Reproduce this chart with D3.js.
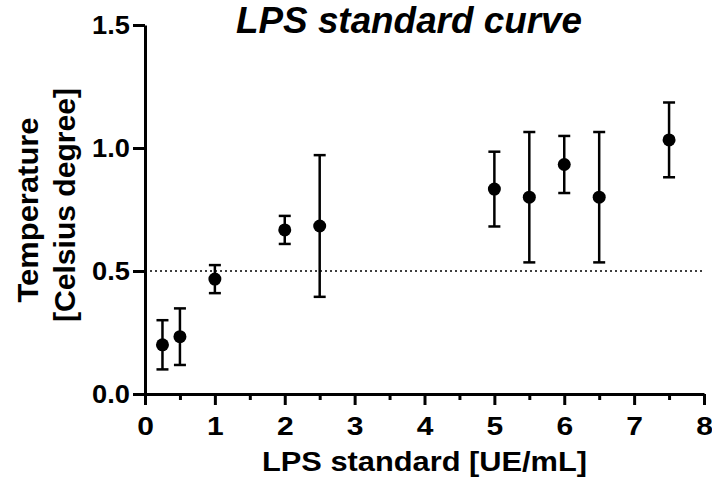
<!DOCTYPE html>
<html>
<head>
<meta charset="utf-8">
<script src="https://cdn.jsdelivr.net/npm/d3@7"></script>
<style>
  body { margin: 0; background: #fff; }
  svg { font-family: "Liberation Sans", Arial, sans-serif; }
</style>
</head>
<body>
<script>
// LPS standard curve data (mean +/- error)
const doses = [0.25, 0.5, 1, 2, 2.5, 5, 5.5, 6, 6.5, 7.5];
const means = [0.2, 0.233, 0.467, 0.667, 0.683, 0.833, 0.8, 0.933, 0.8, 1.033];
const errs = [0.1, 0.115, 0.057, 0.057, 0.288, 0.152, 0.265, 0.116, 0.265, 0.152];
const x_ticks = [0, 1, 2, 3, 4, 5, 6, 7, 8];
const x_minor = [0.5, 1.5, 2.5, 3.5, 4.5, 5.5, 6.5, 7.5];
const y_ticks = [0, 0.5, 1.0, 1.5];
const threshold = 0.5;

const w = 712, h = 485;
const m = {top: 25, right: 8, bottom: 91, left: 145};
const stretch = 1.15; // the reference text is a bit wider than Arial

const svg = d3.select("body").append("svg")
  .attr("width", w).attr("height", h);

const x = d3.scaleLinear().domain([0, 8]).range([m.left, w - m.right]);
const y = d3.scaleLinear().domain([0, 1.5]).range([h - m.bottom, m.top]);

function widen(sel, k) {
  sel.each(function () {
    const len = this.getComputedTextLength();
    d3.select(this).attr("textLength", len * k).attr("lengthAdjust", "spacingAndGlyphs");
  });
}

// dotted threshold line
svg.append("line")
  .attr("x1", x(0)).attr("x2", x(8))
  .attr("y1", y(threshold)).attr("y2", y(threshold))
  .attr("stroke", "#000").attr("stroke-width", 1.5)
  .attr("stroke-dasharray", "2,3");

// x axis with minor ticks
const xg = svg.append("g")
  .attr("transform", `translate(0,${y(0)})`);
xg.append("g")
  .call(d3.axisBottom(x).tickValues(x_minor).tickSize(6).tickFormat(""))
  .call(g => g.select(".domain").remove())
  .selectAll("line").attr("stroke-width", 3);
xg.append("g")
  .call(d3.axisBottom(x).tickValues(x_ticks).tickSize(11).tickSizeOuter(0)
    .tickFormat(d3.format("d")))
  .call(g => g.select(".domain").attr("stroke-width", 3))
  .call(g => g.selectAll("line").attr("stroke-width", 3))
  .call(g => g.selectAll("text")
    .attr("font-size", 25).attr("font-weight", "bold")
    .attr("font-family", "Liberation Sans, Arial, sans-serif")
    .attr("y", 41).attr("dy", null)
    .call(widen, 1.2));

// y axis
svg.append("g")
  .attr("transform", `translate(${x(0)},0)`)
  .call(d3.axisLeft(y).tickValues(y_ticks).tickSize(12).tickSizeOuter(0)
    .tickFormat(d3.format(".1f")))
  .call(g => g.select(".domain").attr("stroke-width", 3))
  .call(g => g.selectAll("line").attr("stroke-width", 3))
  .call(g => g.selectAll("text")
    .attr("font-size", 25).attr("font-weight", "bold")
    .attr("font-family", "Liberation Sans, Arial, sans-serif")
    .attr("x", -15).attr("dy", 8.5)
    .call(widen, 1.09));

// error bars
const data = doses.map((d, i) => ({x: d, y: means[i], e: errs[i]}));
const cap = 6;
const eb = svg.append("g").attr("stroke", "#000").attr("stroke-width", 2.5);
eb.selectAll(".v").data(data).join("line")
  .attr("x1", d => x(d.x)).attr("x2", d => x(d.x))
  .attr("y1", d => y(d.y - d.e)).attr("y2", d => y(d.y + d.e));
eb.selectAll(".t").data(data).join("line")
  .attr("x1", d => x(d.x) - cap).attr("x2", d => x(d.x) + cap)
  .attr("y1", d => y(d.y + d.e)).attr("y2", d => y(d.y + d.e));
eb.selectAll(".b").data(data).join("line")
  .attr("x1", d => x(d.x) - cap).attr("x2", d => x(d.x) + cap)
  .attr("y1", d => y(d.y - d.e)).attr("y2", d => y(d.y - d.e));

// points
svg.append("g").selectAll("circle").data(data).join("circle")
  .attr("cx", d => x(d.x)).attr("cy", d => y(d.y))
  .attr("r", 6.5).attr("fill", "#000");

// title
svg.append("text")
  .attr("x", 409).attr("y", 33)
  .attr("text-anchor", "middle")
  .attr("font-size", 36).attr("font-weight", "bold").attr("font-style", "italic")
  .attr("textLength", 346).attr("lengthAdjust", "spacingAndGlyphs")
  .text("LPS standard curve");

// x label
svg.append("text")
  .attr("x", 424.5).attr("y", 471)
  .attr("text-anchor", "middle")
  .attr("font-size", 27).attr("font-weight", "bold")
  .attr("textLength", 325).attr("lengthAdjust", "spacingAndGlyphs")
  .text("LPS standard [UE/mL]");

// y label, two lines
svg.append("text")
  .attr("transform", "translate(38,210) rotate(-90)")
  .attr("text-anchor", "middle")
  .attr("font-size", 29).attr("font-weight", "bold")
  .attr("textLength", 185).attr("lengthAdjust", "spacingAndGlyphs")
  .text("Temperature");
svg.append("text")
  .attr("transform", "translate(75,205) rotate(-90)")
  .attr("text-anchor", "middle")
  .attr("font-size", 29).attr("font-weight", "bold")
  .attr("textLength", 234).attr("lengthAdjust", "spacingAndGlyphs")
  .text("[Celsius degree]");
</script>
</body>
</html>
